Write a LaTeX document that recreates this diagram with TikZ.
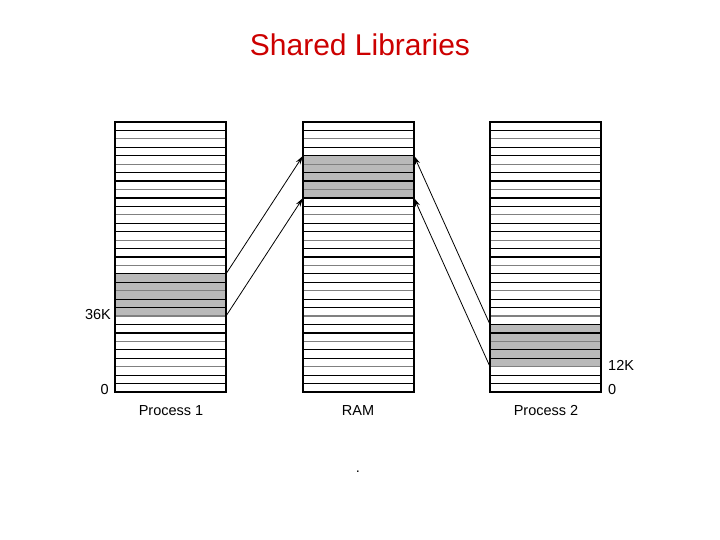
\documentclass[tikz,border=0pt]{standalone}
\usepackage{fontspec}
\usetikzlibrary{arrows.meta}
\setmainfont{Liberation Sans}
\begin{document}
\begin{tikzpicture}[x=1pt,y=-1pt,
  lbl/.style={font=\fontsize{14.5}{16}\selectfont,inner sep=0pt},
  map/.style={-{Stealth[length=9pt,width=5pt]},line width=0.8pt}]
\useasboundingbox (0,0) rectangle (720,540);
\def\rh{8.4375}
\foreach \cx/\s in {115/18, 303/4, 490/24}{
  \fill[gray!55] (\cx,{122+\s*\rh}) rectangle ({\cx+111},{122+(\s+5)*\rh});
  \foreach \i in {1,...,31}{
    \pgfmathsetmacro\c{mod(\i,3)==2 ? 50 : 100}
    \draw[line width=1.2pt,black!\c] (\cx,{122+\i*\rh}) -- ({\cx+111},{122+\i*\rh});
  }
  \draw[line width=1.2pt] (\cx,122) rectangle ({\cx+111},392);
}
\coordinate (p1a) at (226,{122+18*\rh});
\coordinate (p1b) at (226,{122+23*\rh});
\coordinate (rla) at (303,{122+4*\rh});
\coordinate (rlb) at (303,{122+9*\rh});
\coordinate (rra) at (414,{122+4*\rh});
\coordinate (rrb) at (414,{122+9*\rh});
\coordinate (p2a) at (490,{122+24*\rh});
\coordinate (p2b) at (490,{122+29*\rh});
\draw[map] (p1a) -- (rla);
\draw[map] (p1b) -- (rlb);
\draw[map] (p2a) -- (rra);
\draw[map] (p2b) -- (rrb);
\node[lbl,anchor=east] (k36) at (111,315) {36K};
\node[lbl,anchor=east] (z1) at (109,390) {0};
\node[lbl,anchor=west] (k12) at (608,365) {12K};
\node[lbl,anchor=west] (z2) at (608,390) {0};
\node[lbl] (n1) at (171,411) {Process 1};
\node[lbl] (n2) at (358,411) {RAM};
\node[lbl] (n3) at (546,411) {Process 2};
\node[font=\fontsize{30}{34}\selectfont,text={rgb,255:red,204;green,0;blue,0}] (t) at (360,45) {Shared Libraries};
\node[lbl] (dot) at (358,472) {.};
\end{tikzpicture}
\end{document}
